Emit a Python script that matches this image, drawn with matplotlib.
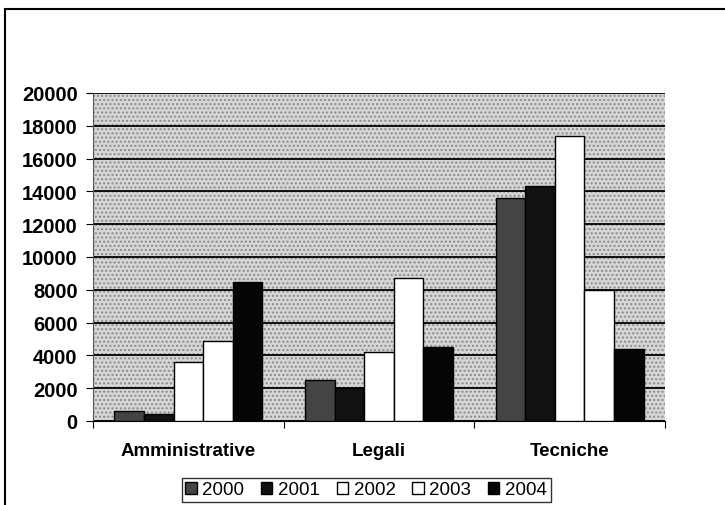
import numpy as np
import matplotlib.pyplot as plt
from matplotlib.patches import Rectangle

# Data
categories = ['Amministrative', 'Legali', 'Tecniche']
years = ['2000', '2001', '2002', '2003', '2004']
v2000 = [600, 2500, 13600]
v2001 = [450, 2000, 14350]
v2002 = [3600, 4200, 17400]
v2003 = [4850, 8700, 8000]
v2004 = [8500, 4500, 4400]
series = [v2000, v2001, v2002, v2003, v2004]

colors = ['#444444', '#111111', '#ffffff', '#ffffff', '#050505']

plt.rcParams['font.family'] = ['Liberation Sans', 'DejaVu Sans']

fig = plt.figure(figsize=(7.25, 5.06), dpi=100)
# outer chart frame
fig.patches.append(Rectangle((0.007, -0.01), 1.2, 0.99, transform=fig.transFigure,
                             fill=False, edgecolor='black', linewidth=1.5))

ax = fig.add_axes([93 / 725, 1 - 422 / 506, 572 / 725, 328 / 506])
ax.set_facecolor('#d6d6d6')
ax.add_patch(Rectangle((0, 0), 1, 1, transform=ax.transAxes, facecolor='none',
                       hatch='....', edgecolor='#8a8a8a', linewidth=0, zorder=0))

x = np.arange(len(categories))
width = 0.155
for i, (vals, c) in enumerate(zip(series, colors)):
    ax.bar(x + (i - 2) * width, vals, width, color=c, edgecolor='black',
           linewidth=1.0, label=years[i], zorder=3)

ax.set_xlim(-0.5, 2.5)
ax.set_ylim(0, 20000)
ax.set_yticks(range(0, 20001, 2000))
ax.yaxis.grid(True, color='black', linewidth=1.3, zorder=1)
ax.set_axisbelow(True)

ax.set_xticks([-0.5, 0.5, 1.5, 2.5], minor=False)
ax.set_xticklabels([])
ax.set_xticks(x, minor=True)
ax.set_xticklabels(categories, minor=True, fontsize=13.5, fontweight='bold')
ax.tick_params(axis='x', which='minor', length=0, pad=15)
ax.tick_params(axis='x', which='major', length=5, direction='out')
ax.tick_params(axis='y', length=5, labelsize=14.5, pad=6)
for lab in ax.get_yticklabels():
    lab.set_fontweight('bold')

for s in ['top', 'right']:
    ax.spines[s].set_visible(False)
ax.spines['left'].set_color('#555555')
ax.spines['bottom'].set_color('black')

leg = fig.legend(loc='center', bbox_to_anchor=(366 / 725, 1 - 491 / 506), ncol=5,
                 frameon=True, fancybox=False, edgecolor='black', fontsize=13.5,
                 handlelength=0.6, handleheight=0.6, handletextpad=0.3,
                 columnspacing=0.9, borderpad=0.2, borderaxespad=0)
leg.get_frame().set_linewidth(1.0)

fig.savefig('out.png', dpi=100)
